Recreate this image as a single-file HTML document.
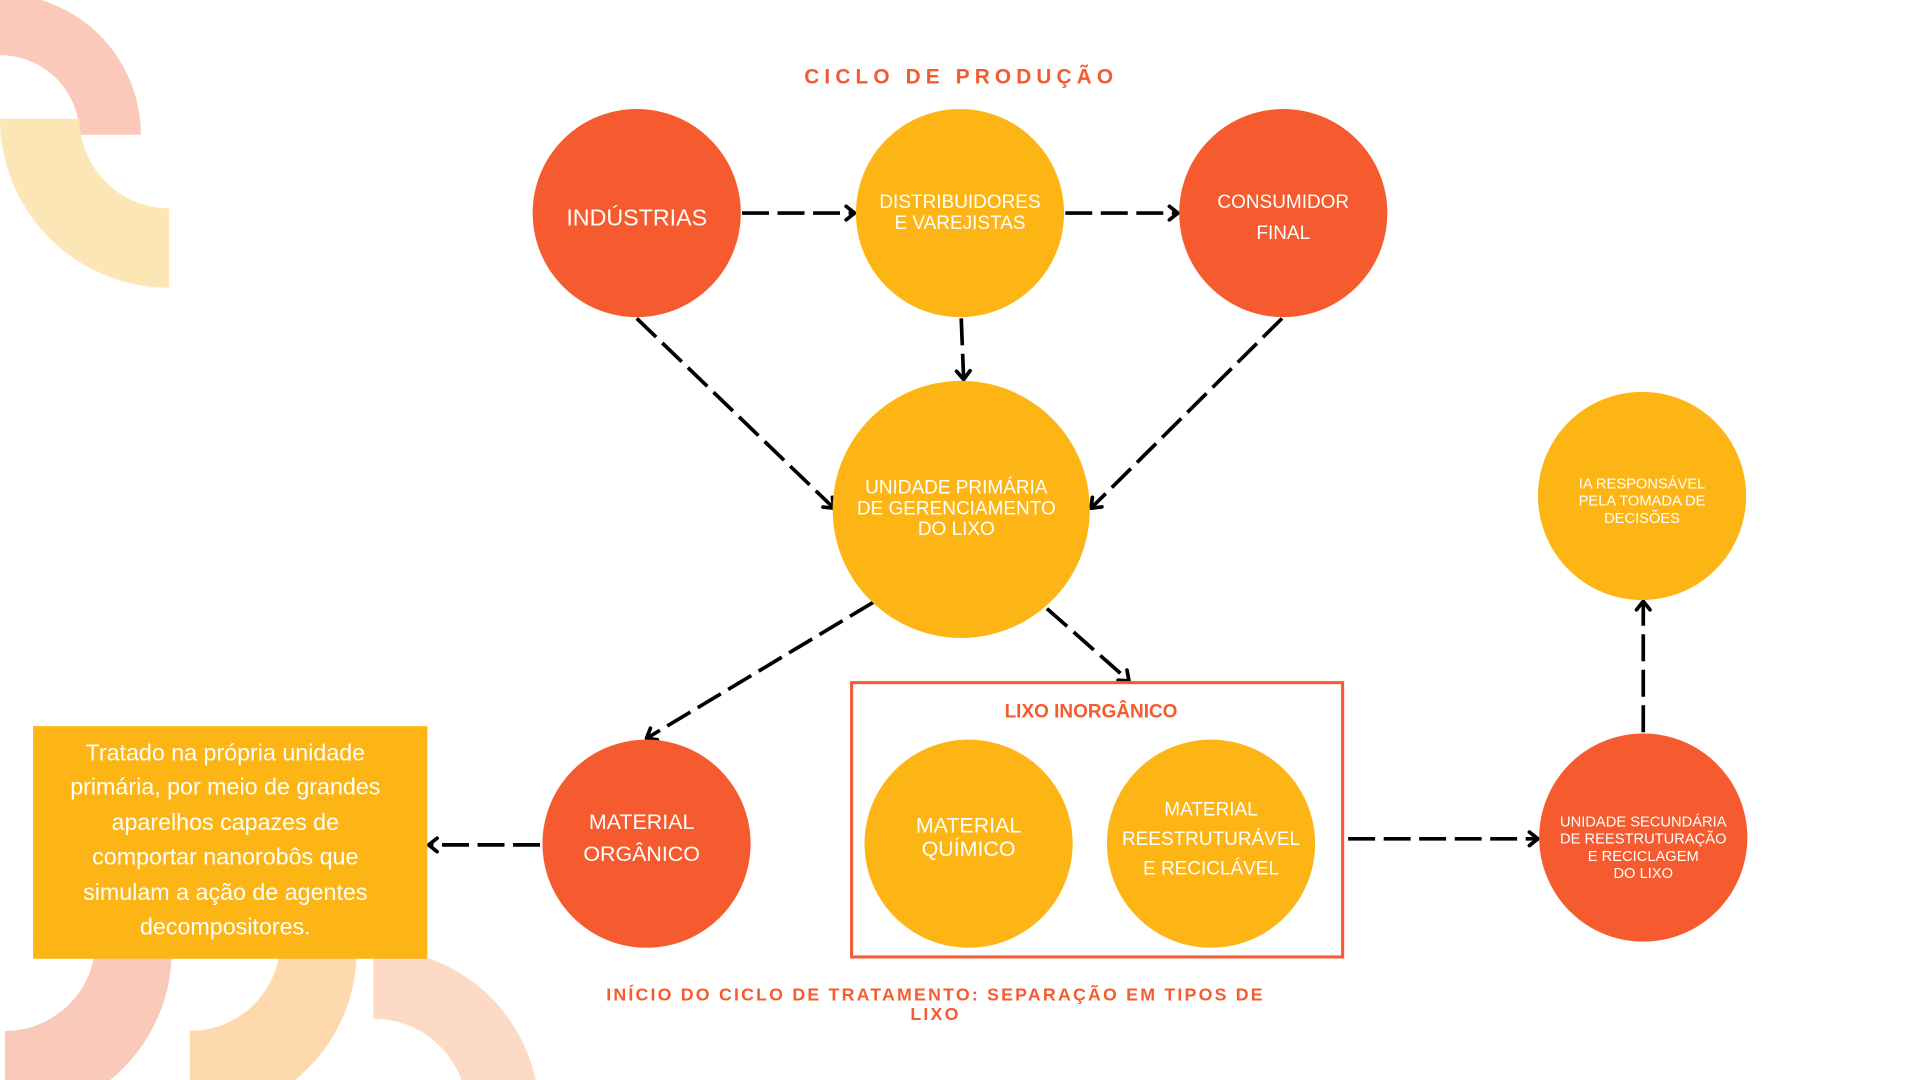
<!DOCTYPE html>
<html><head><meta charset="utf-8"><style>
html,body{margin:0;padding:0;background:#fff;width:1920px;height:1080px;overflow:hidden}
svg{display:block}
text{font-family:"Liberation Sans",sans-serif;fill:#fff}
</style></head><body>
<svg width="1920" height="1080" viewBox="0 0 1568 882" xmlns="http://www.w3.org/2000/svg">
<defs>
<marker id="a" viewBox="0 0 12 12" refX="10" refY="6" markerWidth="12" markerHeight="12" orient="auto" markerUnits="userSpaceOnUse" style="overflow:visible">
<path d="M3,0.5 L10,6 L3,11.5" fill="none" stroke="#000" stroke-width="3" stroke-dasharray="none" stroke-linecap="round" stroke-linejoin="round"/>
</marker>
</defs>
<path d="M0,-5 A115,115 0 0 1 115,110 L65,110 A65,65 0 0 0 0,45 Z" fill="#f9c3b3" opacity="0.9"/>
<path d="M0,97 L65,97 A73,73 0 0 0 138,170 L138,235 A138,138 0 0 1 0,97 Z" fill="#fde3ae" opacity="0.9"/>
<path d="M4,882 L4,842 A74,74 0 0 0 78,768 L140,768 A136,136 0 0 1 90,882 Z" fill="#f9c9b9"/>
<path d="M155,882 L155,842 A74,74 0 0 0 229,768 L291,768 A136,136 0 0 1 241,882 Z" fill="#fdd9ad"/>
<path d="M305,775 A135,135 0 0 1 440,900 L381,900 A76,76 0 0 0 305,832 Z" fill="#fddac6"/>
<text x="785" y="68" text-anchor="middle" style="fill:#f55b2e;font-weight:bold;font-size:17px;letter-spacing:4.2px">CICLO DE PRODUÇÃO</text>
<g stroke="#000" stroke-width="3" fill="none" stroke-dasharray="22,7">
<line x1="606" y1="174" x2="698" y2="174" marker-end="url(#a)"/>
<line x1="870" y1="174" x2="962" y2="174" marker-end="url(#a)"/>
<line x1="785" y1="260" x2="787" y2="310" marker-end="url(#a)"/>
<line x1="520" y1="260" x2="681" y2="415" marker-end="url(#a)"/>
<line x1="1047" y1="260" x2="891" y2="415" marker-end="url(#a)"/>
<line x1="713" y1="492" x2="528" y2="603" marker-end="url(#a)"/>
<line x1="855" y1="497" x2="922" y2="556" marker-end="url(#a)"/>
<line x1="441" y1="690" x2="350" y2="690" marker-end="url(#a)"/>
<line x1="1101" y1="685" x2="1256" y2="685" marker-end="url(#a)"/>
<line x1="1342" y1="598" x2="1342" y2="491" marker-end="url(#a)"/>
</g>
<circle cx="520" cy="174" r="85" fill="#f55b2e"/>
<circle cx="784" cy="174" r="85" fill="#fdb515"/>
<circle cx="1048" cy="174" r="85" fill="#f55b2e"/>
<circle cx="785" cy="416" r="105" fill="#fdb515"/>
<circle cx="1341" cy="405" r="85" fill="#fdb515"/>
<circle cx="1342" cy="684" r="85" fill="#f55b2e"/>
<circle cx="528" cy="689" r="85" fill="#f55b2e"/>
<rect x="695.5" y="557.5" width="401" height="224" fill="none" stroke="#f55b2e" stroke-width="2.5"/>
<circle cx="791" cy="689" r="85" fill="#fdb515"/>
<circle cx="989" cy="689" r="85" fill="#fdb515"/>
<rect x="27" y="593" width="322" height="190" fill="#fdb515"/>
<text x="520" y="184" text-anchor="middle" font-size="19">INDÚSTRIAS</text>
<text x="784" y="170" text-anchor="middle" font-size="15.5">DISTRIBUIDORES</text>
<text x="784" y="187" text-anchor="middle" font-size="15.5">E VAREJISTAS</text>
<text x="1048" y="170" text-anchor="middle" font-size="15.5">CONSUMIDOR</text>
<text x="1048" y="195" text-anchor="middle" font-size="15.5">FINAL</text>
<text x="781" y="403" text-anchor="middle" font-size="15.5">UNIDADE PRIMÁRIA</text>
<text x="781" y="420" text-anchor="middle" font-size="15.5">DE GERENCIAMENTO</text>
<text x="781" y="437" text-anchor="middle" font-size="15.5">DO LIXO</text>
<text x="1341" y="399" text-anchor="middle" font-size="12">IA RESPONSÁVEL</text>
<text x="1341" y="413" text-anchor="middle" font-size="12">PELA TOMADA DE</text>
<text x="1341" y="427" text-anchor="middle" font-size="12">DECISÕES</text>
<text x="1342" y="675" text-anchor="middle" font-size="12">UNIDADE SECUNDÁRIA</text>
<text x="1342" y="689" text-anchor="middle" font-size="12">DE REESTRUTURAÇÃO</text>
<text x="1342" y="703" text-anchor="middle" font-size="12">E RECICLAGEM</text>
<text x="1342" y="717" text-anchor="middle" font-size="12">DO LIXO</text>
<text x="524" y="677" text-anchor="middle" font-size="17.5">MATERIAL</text>
<text x="524" y="703" text-anchor="middle" font-size="17.5">ORGÂNICO</text>
<text x="791" y="680" text-anchor="middle" font-size="17.5">MATERIAL</text>
<text x="791" y="699" text-anchor="middle" font-size="17.5">QUÍMICO</text>
<text x="989" y="666" text-anchor="middle" font-size="15.5">MATERIAL</text>
<text x="989" y="690" text-anchor="middle" font-size="15.5">REESTRUTURÁVEL</text>
<text x="989" y="714" text-anchor="middle" font-size="15.5">E RECICLÁVEL</text>
<text x="891" y="586" text-anchor="middle" style="fill:#f55b2e;font-weight:bold;font-size:15.5px">LIXO INORGÂNICO</text>
<g font-size="19" text-anchor="middle">
<text x="184" y="621">Tratado na própria unidade</text>
<text x="184" y="649">primária, por meio de grandes</text>
<text x="184" y="678">aparelhos capazes de</text>
<text x="184" y="706">comportar nanorobôs que</text>
<text x="184" y="735">simulam a ação de agentes</text>
<text x="184" y="763">decompositores.</text>
</g>
<text x="764" y="817" text-anchor="middle" style="fill:#f55b2e;font-weight:bold;font-size:14.5px;letter-spacing:1.8px">INÍCIO DO CICLO DE TRATAMENTO: SEPARAÇÃO EM TIPOS DE</text>
<text x="764" y="833" text-anchor="middle" style="fill:#f55b2e;font-weight:bold;font-size:14.5px;letter-spacing:1.8px">LIXO</text>
</svg>
</body></html>
